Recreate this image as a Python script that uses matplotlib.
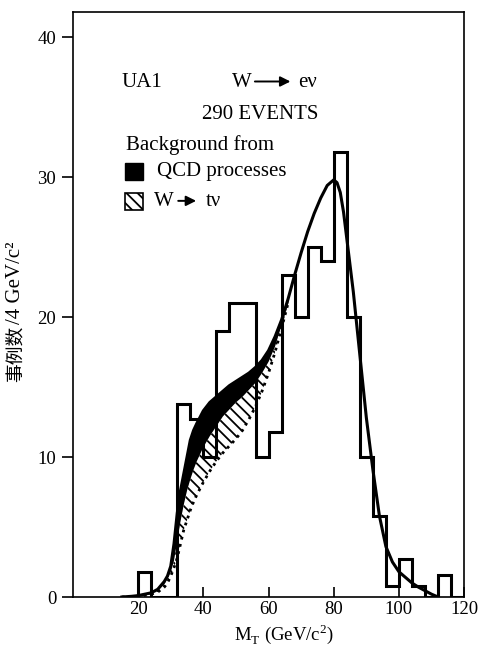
import numpy as np
import matplotlib
matplotlib.use('Agg')
import matplotlib.pyplot as plt
from matplotlib.patches import Rectangle

plt.rcParams['font.family'] = ['Liberation Serif', 'DejaVu Serif']
plt.rcParams['mathtext.fontset'] = 'custom'
plt.rcParams['mathtext.rm'] = 'Liberation Serif'
plt.rcParams['hatch.linewidth'] = 1.3

# Histogram: events per 4 GeV bin
bin_edges = [16, 20, 24, 28, 32, 36, 40, 44, 48, 52, 56, 60, 64, 68, 72, 76,
             80, 84, 88, 92, 96, 100, 104, 108, 112, 116, 120]
counts = [0, 1.8, 0, 0, 13.8, 12.7, 10, 19, 21, 21, 10, 11.8, 23, 20, 25, 24,
          31.8, 20, 10, 5.8, 0.8, 2.7, 0.8, 0, 1.6, 0]

# Total fit curve (signal + backgrounds)
fit_x = [15, 18, 20, 22, 24, 26, 28, 29, 30, 31, 32, 33, 34, 35, 36, 37, 38,
         40, 42, 44, 46, 48, 50, 52, 54, 56, 58, 60, 62, 64, 66,
         68, 70, 72, 74, 76, 78, 80, 81, 82, 83, 84, 86, 88, 90, 92, 94,
         96, 98, 100, 102, 104, 106, 108, 110, 112]
fit_total = [0, 0.05, 0.1, 0.2, 0.3, 0.55, 1.1, 1.5, 2.2, 3.8, 6.0, 7.6, 8.8,
             10.0, 11.2, 11.9, 12.4, 13.3, 13.9, 14.3, 14.7, 15.1, 15.4,
             15.7, 16.0, 16.4, 16.9, 17.6, 18.6, 19.8, 21.3,
             23.0, 24.6, 26.1, 27.4, 28.5, 29.4, 29.8, 29.6, 28.9, 27.5,
             25.6, 21.8, 17.3, 12.8, 9.1, 5.8, 3.6, 2.5, 1.8, 1.4, 1.0, 0.7,
             0.45, 0.2, 0]

# Background bands, same x as the first part of fit_x (15 .. 66)
band_x = fit_x[:31]
band_top = fit_total[:31]
# signal + W -> tau nu
sig_tau = [0, 0.04, 0.08, 0.15, 0.25, 0.45, 0.9, 1.3, 1.8, 2.6, 4.0, 5.4, 6.6,
           7.6, 8.4, 9.1, 9.7, 10.7, 11.5, 12.2, 12.9, 13.4, 13.9, 14.3, 14.8,
           15.3, 16.0, 16.8, 17.9, 19.4, 21.1]
# signal only
sig_only = [0, 0.03, 0.06, 0.12, 0.2, 0.35, 0.7, 1.0, 1.5, 2.1, 2.8, 3.8, 4.8,
            5.5, 6.2, 6.8, 7.3, 8.2, 9.0, 9.7, 10.3, 10.8, 11.3, 11.9, 12.7,
            13.6, 14.7, 16.0, 17.5, 19.2, 21.0]

fig = plt.figure(figsize=(4.83, 6.48), dpi=100)
ax = fig.add_axes([0.151, 0.0787, 0.810, 0.903])

# QCD band (black) and W -> tau nu band (hatched)
ax.fill_between(band_x, sig_tau, band_top, color='black', lw=0)
ax.fill_between(band_x, sig_only, sig_tau, facecolor='white', edgecolor='black',
                hatch='\\\\\\', lw=0)
ax.plot(band_x, sig_only, color='black', lw=2, linestyle=':')
ax.plot(fit_x, fit_total, color='black', lw=2.2)
ax.stairs(counts, bin_edges, color='black', lw=2.2)

ax.set_xlim(0, 119.5)
ax.set_ylim(0, 41.8)
ax.set_xticks([20, 40, 60, 80, 100, 120])
ax.set_yticks([0, 10, 20, 30, 40])
ax.tick_params(axis='x', direction='in', length=7, width=1.2, labelsize=13.5, pad=3)
ax.tick_params(axis='y', direction='out', length=8, width=1.2, labelsize=13.5, pad=4)
for sp in ax.spines.values():
    sp.set_linewidth(1.2)

ax.set_xlabel('M$_\\mathregular{T}$ (GeV/c$^\\mathregular{2}$)', fontsize=13.5)
ax.xaxis.set_label_coords(0.54, -0.042)

# y label: Chinese part and Latin part drawn with their own fonts
ax.text(-0.135, 0.3675, '事例数', transform=ax.transAxes, rotation=90,
        rotation_mode='anchor', ha='left', va='baseline', fontsize=13.5,
        family=['Noto Sans CJK SC'])
ax.text(-0.135, 0.466, '/4 GeV/c²', transform=ax.transAxes, rotation=90,
        rotation_mode='anchor', ha='left', va='baseline', fontsize=15)

# annotations
tr = ax.transAxes
fs = 15
ax.text(0.125, 0.880, 'UA1', transform=tr, fontsize=fs, va='center')
ax.text(0.406, 0.880, 'W', transform=tr, fontsize=fs, va='center')
ax.annotate('', xy=(0.563, 0.881), xytext=(0.458, 0.881), xycoords=tr,
            arrowprops=dict(arrowstyle='-|>', color='black', lw=1.4, mutation_scale=15))
ax.text(0.575, 0.880, 'eν', transform=tr, fontsize=fs, va='center')
ax.text(0.478, 0.824, '290 EVENTS', transform=tr, fontsize=fs, va='center', ha='center')
ax.text(0.136, 0.772, 'Background from', transform=tr, fontsize=fs, va='center')

ax.add_patch(Rectangle((0.133, 0.713), 0.046, 0.029, transform=tr,
                       facecolor='black', edgecolor='black', lw=1))
ax.text(0.215, 0.727, 'QCD processes', transform=tr, fontsize=fs, va='center')

ax.add_patch(Rectangle((0.133, 0.662), 0.046, 0.029, transform=tr,
                       facecolor='white', edgecolor='black', hatch='\\\\\\', lw=1.2))
ax.text(0.207, 0.676, 'W', transform=tr, fontsize=fs, va='center')
ax.annotate('', xy=(0.322, 0.677), xytext=(0.262, 0.677), xycoords=tr,
            arrowprops=dict(arrowstyle='-|>', color='black', lw=1.4, mutation_scale=15))
ax.text(0.34, 0.676, 'tν', transform=tr, fontsize=fs, va='center')

fig.savefig('out.png', dpi=100)
